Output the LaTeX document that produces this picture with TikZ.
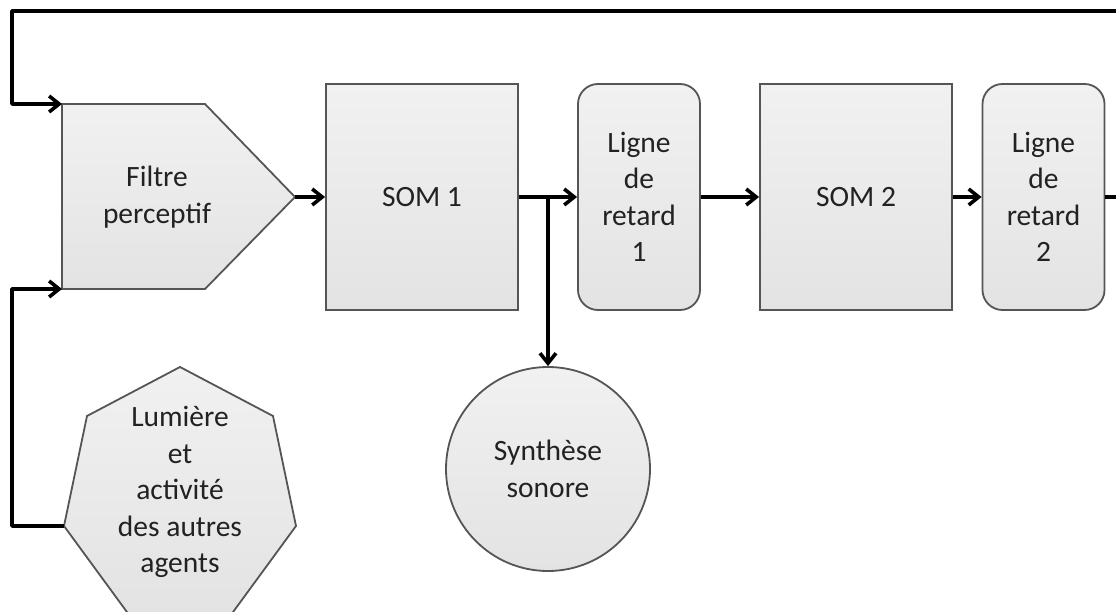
\documentclass[tikz,border=0pt]{standalone}
\usepackage{fontspec}
\setmainfont{Carlito}
\usetikzlibrary{arrows.meta}
\definecolor{boxfillA}{HTML}{F1F1F1}
\definecolor{boxfillB}{HTML}{E3E3E3}
\definecolor{boxline}{HTML}{555555}
\definecolor{inktext}{HTML}{222222}

\begin{document}
\begin{tikzpicture}[x=1pt,y=-1pt,
  labeltext/.style={text=inktext, font=\fontsize{29.5}{36.5}\selectfont, align=center, inner sep=0pt},
  box/.style={draw=boxline, line width=1.8pt, top color=boxfillA, bottom color=boxfillB},
  blockbox/.style={box, labeltext, rectangle, minimum width=192pt, minimum height=226pt},
  delaybox/.style={box, labeltext, rectangle, rounded corners=20pt, minimum width=122pt, minimum height=226pt},
  roundbox/.style={box, labeltext, circle, minimum size=204pt},
  conn/.style={line width=3.6pt, black, line join=round},
  arr/.style={conn, -{Straight Barb[length=10pt,width=16pt]}},
]
\useasboundingbox (0,0) rectangle (1116,612);
\fill[white] (0,0) rectangle (1116,612);

% perceptual filter (pentagon pointing right)
\path[box] (62,104) -- (205,104) -- (295,197) -- (205,289) -- (62,289) -- cycle;
\node[labeltext] (fil) at (157,197) {Filtre\\perceptif};
\coordinate (filNW) at (62,104);
\coordinate (filSW) at (62,289);
\coordinate (filE) at (295,197);

% light and activity of the other agents (heptagon)
\path[box] (180,367) -- (273,416) -- (296,526) -- (231.6,614) -- (128.4,614)
  -- (64,526) -- (87,416) -- cycle;
\node[labeltext] (lum) at (180,492) {Lumière\\et\\activité\\des autres\\agents};
\coordinate (lumW) at (64,526);

% processing chain
\node[blockbox] (som1) at (422,197) {SOM 1};
\node[delaybox] (lig1) at (639,197) {Ligne\\de\\retard\\1};
\node[blockbox] (som2) at (856,197) {SOM 2};
\node[delaybox] (lig2) at (1043.5,197) {Ligne\\de\\retard\\2};
\node[roundbox] (syn) at (548,469) {Synthèse\\sonore};

% loop corners
\coordinate (loopR) at (1117.5,11);
\coordinate (loopL) at (12,11);
\coordinate (loopB) at (12,526);

% connectors
\draw[arr] (filE) -- (som1.west);
\draw[arr] (som1.east) -- (lig1.west);
\draw[arr] (som1.east -| syn.north) -- (syn.north);
\draw[arr] (lig1.east) -- (som2.west);
\draw[arr] (som2.east) -- (lig2.west);
\draw[arr] (lig2.east) -| (loopR) -- (loopL) |- (filNW);
\draw[arr] (lumW) -- (loopB) |- (filSW);
\end{tikzpicture}
\end{document}
